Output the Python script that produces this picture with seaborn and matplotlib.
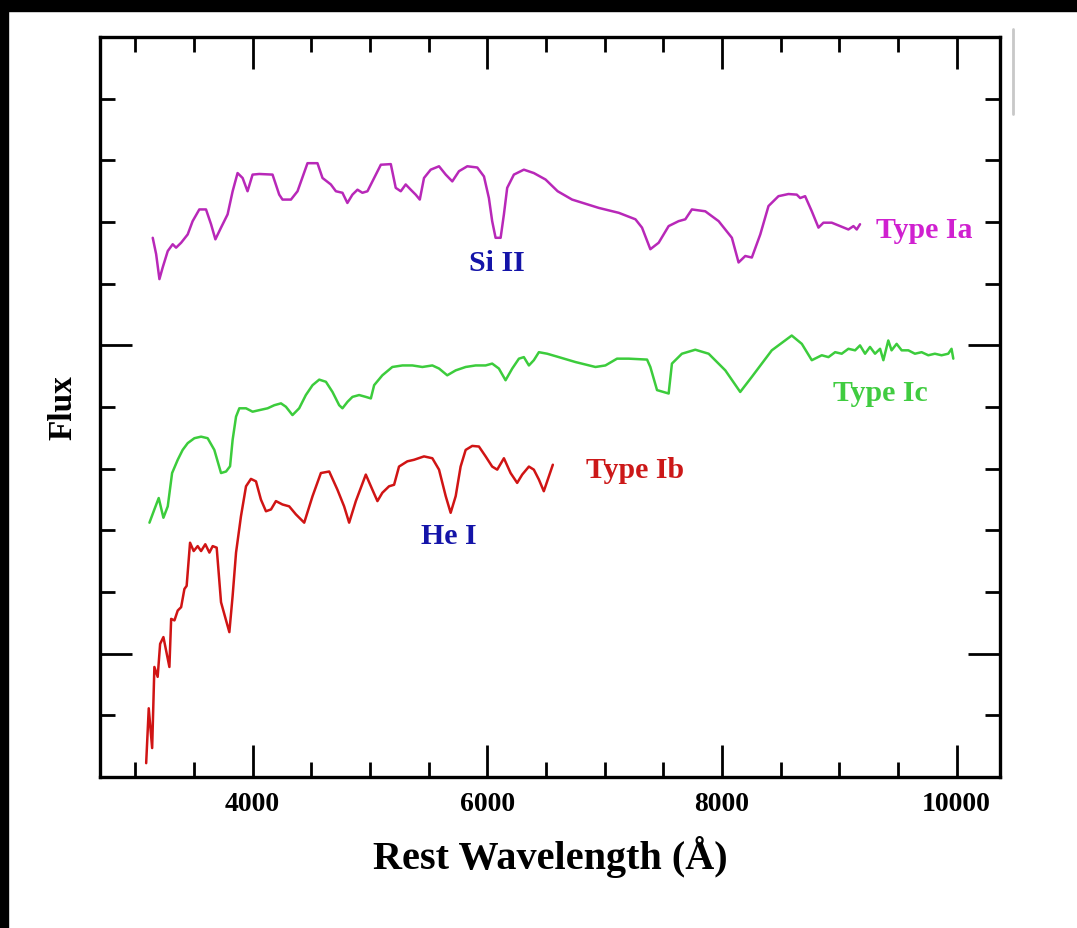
import numpy as np
import pandas as pd
import matplotlib
matplotlib.use("Agg")
import matplotlib.pyplot as plt
from matplotlib.ticker import MultipleLocator
import seaborn as sns

# spectra (wavelength in A, flux in arbitrary offset units)
ia_wave = [3149, 3178, 3206, 3234, 3277, 3319, 3348, 3391, 3447, 3489, 3546, 3603, 3646, 3683,
           3731, 3787, 3830, 3872, 3915, 3957, 4000, 4057, 4170, 4227, 4255, 4327, 4383, 4468,
           4553, 4596, 4667, 4710, 4766, 4808, 4851, 4894, 4936, 4979, 5036, 5093, 5178, 5220,
           5263, 5305, 5348, 5390, 5425, 5461, 5518, 5589, 5646, 5702, 5759, 5830, 5915, 5972,
           6014, 6042, 6071, 6114, 6142, 6170, 6227, 6312, 6397, 6497, 6600, 6723, 6950, 7121,
           7263, 7319, 7390, 7461, 7546, 7631, 7688, 7744, 7858, 7972, 8085, 8142, 8199, 8255,
           8327, 8397, 8482, 8567, 8638, 8667, 8709, 8766, 8823, 8865, 8936, 9007, 9078, 9121,
           9149, 9177]
ia_flux = [1.349, 1.296, 1.215, 1.253, 1.306, 1.328, 1.317, 1.333, 1.360, 1.403, 1.441, 1.441,
           1.393, 1.344, 1.382, 1.425, 1.500, 1.559, 1.543, 1.500, 1.554, 1.556, 1.554, 1.489,
           1.473, 1.473, 1.500, 1.591, 1.591, 1.543, 1.522, 1.500, 1.495, 1.462, 1.489, 1.505,
           1.495, 1.500, 1.543, 1.586, 1.588, 1.511, 1.500, 1.522, 1.505, 1.489, 1.473, 1.543,
           1.570, 1.581, 1.554, 1.532, 1.565, 1.581, 1.577, 1.548, 1.478, 1.403, 1.349, 1.349,
           1.425, 1.511, 1.554, 1.570, 1.559, 1.538, 1.500, 1.473, 1.446, 1.430, 1.409, 1.382,
           1.312, 1.333, 1.387, 1.403, 1.409, 1.441, 1.435, 1.403, 1.349, 1.269, 1.290, 1.285,
           1.360, 1.452, 1.484, 1.491, 1.489, 1.478, 1.484, 1.435, 1.382, 1.398, 1.398, 1.387,
           1.376, 1.387, 1.376, 1.393]

ic_wave = [3121, 3163, 3200, 3240, 3277, 3314, 3362, 3404, 3447, 3504, 3561, 3617, 3674, 3731,
           3774, 3808, 3830, 3859, 3887, 3944, 4000, 4057, 4128, 4185, 4242, 4284, 4340, 4397,
           4454, 4511, 4568, 4625, 4681, 4738, 4766, 4809, 4851, 4908, 4965, 5008, 5036, 5106,
           5191, 5277, 5362, 5447, 5532, 5589, 5659, 5731, 5816, 5901, 5986, 6042, 6099, 6156,
           6213, 6270, 6312, 6355, 6397, 6440, 6511, 6610, 6752, 6922, 7007, 7106, 7206, 7362,
           7390, 7447, 7546, 7574, 7659, 7773, 7887, 8029, 8156, 8255, 8425, 8595, 8681, 8766,
           8851, 8908, 8965, 9021, 9078, 9135, 9177, 9220, 9262, 9305, 9348, 9376, 9418, 9446,
           9489, 9532, 9589, 9645, 9702, 9759, 9815, 9872, 9929, 9957, 9972]
ic_flux = [0.425, 0.468, 0.505, 0.441, 0.478, 0.586, 0.629, 0.661, 0.683, 0.699, 0.704, 0.699,
           0.661, 0.586, 0.591, 0.608, 0.694, 0.769, 0.796, 0.796, 0.785, 0.790, 0.796, 0.806,
           0.812, 0.801, 0.774, 0.796, 0.839, 0.871, 0.889, 0.882, 0.849, 0.806, 0.796, 0.817,
           0.833, 0.839, 0.833, 0.828, 0.871, 0.903, 0.930, 0.935, 0.935, 0.930, 0.935, 0.925,
           0.903, 0.919, 0.930, 0.935, 0.935, 0.941, 0.925, 0.887, 0.925, 0.957, 0.962, 0.935,
           0.952, 0.978, 0.973, 0.962, 0.946, 0.930, 0.935, 0.957, 0.957, 0.954, 0.930, 0.855,
           0.844, 0.941, 0.973, 0.986, 0.973, 0.919, 0.849, 0.898, 0.984, 1.032, 1.005, 0.952,
           0.968, 0.962, 0.978, 0.973, 0.989, 0.984, 1.000, 0.973, 0.995, 0.973, 0.989, 0.952,
           1.016, 0.984, 1.005, 0.984, 0.984, 0.973, 0.978, 0.968, 0.973, 0.968, 0.973, 0.989,
           0.957]

ib_wave = [3093, 3115, 3144, 3163, 3191, 3212, 3240, 3291, 3306, 3334, 3362, 3391, 3419, 3438,
           3467, 3498, 3532, 3561, 3597, 3632, 3660, 3694, 3731, 3774, 3802, 3830, 3859, 3901,
           3944, 3986, 4029, 4071, 4114, 4157, 4199, 4255, 4312, 4369, 4440, 4511, 4582, 4653,
           4723, 4780, 4823, 4880, 4965, 5021, 5064, 5106, 5163, 5206, 5248, 5319, 5376, 5461,
           5532, 5589, 5646, 5688, 5731, 5773, 5816, 5872, 5929, 5986, 6042, 6085, 6142, 6199,
           6255, 6298, 6355, 6397, 6440, 6482, 6525, 6559]
ib_flux = [-0.355, -0.177, -0.306, -0.043, -0.075, 0.032, 0.054, -0.043, 0.113, 0.108, 0.140,
           0.151, 0.210, 0.220, 0.360, 0.333, 0.349, 0.333, 0.355, 0.328, 0.349, 0.344, 0.167,
           0.108, 0.070, 0.188, 0.328, 0.446, 0.543, 0.567, 0.559, 0.500, 0.462, 0.468, 0.495,
           0.484, 0.478, 0.452, 0.425, 0.511, 0.586, 0.591, 0.532, 0.478, 0.425, 0.495, 0.581,
           0.532, 0.495, 0.522, 0.543, 0.548, 0.607, 0.624, 0.629, 0.640, 0.634, 0.597, 0.511,
           0.457, 0.511, 0.607, 0.661, 0.674, 0.672, 0.640, 0.607, 0.597, 0.634, 0.586, 0.554,
           0.581, 0.607, 0.597, 0.565, 0.527, 0.575, 0.613]

series_names = ["Type Ia", "Type Ic", "Type Ib"]
series_colors = ["#b828b8", "#3ccc3c", "#d01414"]

df = pd.concat([
    pd.DataFrame({"wave": ia_wave, "flux": ia_flux, "type": "Type Ia"}),
    pd.DataFrame({"wave": ic_wave, "flux": ic_flux, "type": "Type Ic"}),
    pd.DataFrame({"wave": ib_wave, "flux": ib_flux, "type": "Type Ib"}),
])

sns.set_style("ticks")
plt.rcParams['font.family'] = ['Liberation Serif', 'DejaVu Serif']
plt.rcParams['font.weight'] = 'bold'
plt.rcParams['text.color'] = 'black'
plt.rcParams['axes.labelcolor'] = 'black'
plt.rcParams['xtick.color'] = 'black'
plt.rcParams['ytick.color'] = 'black'

fig = plt.figure(figsize=(10.77, 9.29), dpi=100, facecolor="white")
ax = fig.add_axes([0.0929, 0.1625, 0.8356, 0.7965])

for name, col in zip(series_names, series_colors):
    sub = df[df["type"] == name]
    sns.lineplot(data=sub, x="wave", y="flux", color=col, linewidth=1.8,
                 sort=False, estimator=None, ax=ax)

ax.set_xlim(2700, 10370)
ax.set_ylim(-0.4, 2.0)
ax.xaxis.set_major_locator(MultipleLocator(2000))
ax.xaxis.set_minor_locator(MultipleLocator(500))
ax.yaxis.set_major_locator(MultipleLocator(1.0))
ax.yaxis.set_minor_locator(MultipleLocator(0.2))
ax.set_yticklabels([])
ax.tick_params(which="both", direction="in", top=True, right=True, width=2.0, color="black")
ax.tick_params(which="major", length=23)
ax.tick_params(which="minor", length=11)
ax.tick_params(axis="x", labelsize=20, pad=10, labelcolor="black")
for lab in ax.get_xticklabels():
    lab.set_fontweight("bold")
for sp in ax.spines.values():
    sp.set_linewidth(2.4)
    sp.set_color("black")

ax.set_xlabel("Rest Wavelength (Å)", fontsize=29, fontweight="bold", labelpad=14, color="black")
ax.set_ylabel("Flux", fontsize=24, fontweight="bold", labelpad=12, color="black")

ax.text(9316, 1.377, "Type Ia", color="#d020d0", fontsize=21.5, fontweight="bold", va="center")
ax.text(8950, 0.848, "Type Ic", color="#40cc40", fontsize=21.5, fontweight="bold", va="center")
ax.text(6840, 0.597, "Type Ib", color="#cc1818", fontsize=21.5, fontweight="bold", va="center")
ax.text(6083, 1.268, "Si II", color="#1414a8", fontsize=21.5, fontweight="bold", va="center", ha="center")
ax.text(5674, 0.384, "He I", color="#1414a8", fontsize=21.5, fontweight="bold", va="center", ha="center")

# dark frame strips and the stray grey mark at the top right
fig.patches.append(plt.Rectangle((0, 1 - 12 / 929), 1, 12 / 929, transform=fig.transFigure,
                                 color="black", zorder=-1))
fig.patches.append(plt.Rectangle((0, 0), 8 / 1077, 1, transform=fig.transFigure,
                                 color="black", zorder=-1))
fig.lines.append(plt.Line2D([1013 / 1077, 1013 / 1077], [1 - 30 / 929, 1 - 115 / 929],
                            transform=fig.transFigure, color="#c8c8c8", linewidth=2))

fig.savefig("out.png", dpi=100, facecolor="white")
